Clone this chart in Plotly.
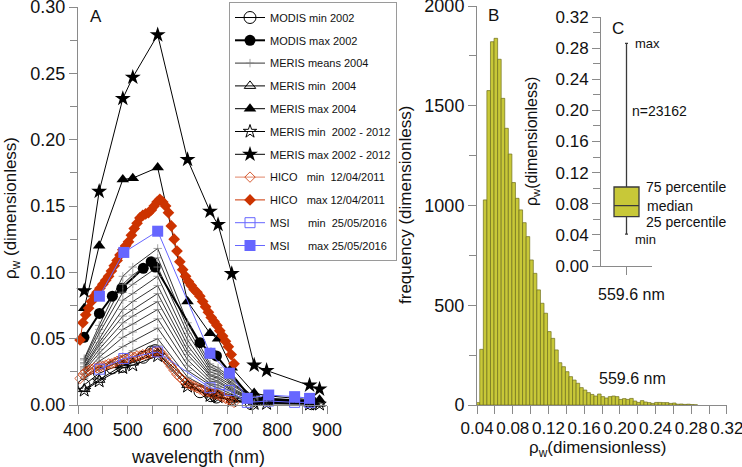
import plotly.graph_objects as go

W, H = 742, 467
FONT = "Arial, Liberation Sans, sans-serif"

# ---------------- Panel A data ----------------
MODIS_WL = [412, 443, 469, 488, 531, 547, 555, 645, 667, 678, 748, 869]
MODIS_MIN_2002 = [0.015, 0.024, 0.028, 0.029, 0.036, 0.040, 0.041, 0.010, 0.007, 0.006, 0.001, 0.001]
MODIS_MAX_2002 = [0.051, 0.069, 0.082, 0.088, 0.103, 0.108, 0.104, 0.047, 0.039, 0.037, 0.005, 0.003]

MERIS_WL = [412.5, 442.5, 490, 510, 560, 620, 665, 681.25, 708.75, 753.75, 778.75, 865, 885]
MERIS_MEANS_2004 = [
    [0.035, 0.060, 0.097, 0.104, 0.118, 0.062, 0.031, 0.028, 0.020, 0.006, 0.005, 0.003, 0.003],
    [0.034, 0.057, 0.091, 0.098, 0.111, 0.058, 0.029, 0.026, 0.019, 0.0056, 0.0047, 0.0028, 0.0028],
    [0.032, 0.054, 0.085, 0.091, 0.104, 0.054, 0.027, 0.025, 0.017, 0.005, 0.0044, 0.0026, 0.0026],
    [0.031, 0.050, 0.079, 0.084, 0.097, 0.049, 0.025, 0.023, 0.016, 0.0048, 0.0041, 0.0024, 0.0024],
    [0.029, 0.047, 0.072, 0.078, 0.090, 0.045, 0.023, 0.021, 0.015, 0.0045, 0.0038, 0.0022, 0.0022],
    [0.028, 0.045, 0.067, 0.072, 0.084, 0.041, 0.022, 0.020, 0.013, 0.0041, 0.0036, 0.0021, 0.0021],
    [0.027, 0.042, 0.062, 0.067, 0.078, 0.038, 0.020, 0.018, 0.012, 0.0038, 0.0034, 0.0019, 0.0019],
    [0.026, 0.039, 0.057, 0.061, 0.072, 0.034, 0.018, 0.017, 0.011, 0.0035, 0.0031, 0.0017, 0.0017],
    [0.024, 0.036, 0.051, 0.055, 0.065, 0.030, 0.016, 0.015, 0.010, 0.0031, 0.0028, 0.0015, 0.0015],
    [0.023, 0.033, 0.044, 0.048, 0.058, 0.026, 0.015, 0.013, 0.008, 0.0027, 0.0025, 0.0014, 0.0014],
    [0.021, 0.029, 0.037, 0.041, 0.050, 0.021, 0.012, 0.011, 0.007, 0.0023, 0.0022, 0.0011, 0.0011],
    [0.020, 0.027, 0.033, 0.036, 0.045, 0.018, 0.011, 0.010, 0.006, 0.002, 0.002, 0.001, 0.001],
]
MERIS_MIN_2004 = [0.012, 0.019, 0.030, 0.032, 0.039, 0.015, 0.008, 0.007, 0.004, 0.002, 0.002, 0.001, 0.001]
MERIS_MAX_2004 = [0.073, 0.120, 0.170, 0.171, 0.179, 0.078, 0.054, 0.050, 0.028, 0.009, 0.007, 0.004, 0.004]
MERIS_MIN_2002_2012 = [0.011, 0.018, 0.028, 0.030, 0.037, 0.014, 0.007, 0.006, 0.003, 0.001, 0.001, 0.0005, 0.0005]
MERIS_MAX_2002_2012 = [0.086, 0.161, 0.231, 0.247, 0.279, 0.185, 0.146, 0.136, 0.099, 0.030, 0.026, 0.015, 0.012]

HICO_WL = [404.1, 409.8, 415.5, 421.3, 427.0, 432.7, 438.4, 444.2, 449.9, 455.6,
           461.4, 467.1, 472.8, 478.5, 484.3, 490.0, 495.7, 501.4, 507.2, 512.9,
           518.6, 524.3, 530.1, 535.8, 541.5, 547.3, 553.0, 558.7, 564.4, 570.2,
           575.9, 581.6, 587.3, 593.1, 598.8, 604.5, 610.2, 616.0, 621.7, 627.4,
           633.1, 638.9, 644.6, 650.3, 656.1, 661.8, 667.5, 673.2, 679.0, 684.7,
           690.4, 696.1, 701.9, 707.6, 713.3]
HICO_MIN = [0.020, 0.023, 0.025, 0.026, 0.027, 0.028, 0.028, 0.029, 0.029, 0.030,
            0.031, 0.031, 0.032, 0.033, 0.034, 0.034, 0.035, 0.035, 0.036, 0.036,
            0.037, 0.037, 0.038, 0.038, 0.039, 0.039, 0.040, 0.040, 0.040, 0.038,
            0.035, 0.032, 0.029, 0.026, 0.023, 0.021, 0.019, 0.017, 0.016, 0.015,
            0.014, 0.013, 0.012, 0.011, 0.010, 0.010, 0.009, 0.008, 0.008, 0.007,
            0.006, 0.005, 0.004, 0.003, 0.002]
HICO_MAX = [0.049, 0.062, 0.068, 0.073, 0.078, 0.082, 0.085, 0.088, 0.091, 0.094,
            0.097, 0.101, 0.105, 0.109, 0.113, 0.117, 0.120, 0.123, 0.128, 0.133,
            0.137, 0.141, 0.143, 0.144, 0.145, 0.147, 0.150, 0.153, 0.155, 0.153,
            0.150, 0.145, 0.135, 0.125, 0.116, 0.108, 0.102, 0.097, 0.093, 0.090,
            0.087, 0.085, 0.082, 0.078, 0.074, 0.070, 0.066, 0.063, 0.060, 0.056,
            0.052, 0.048, 0.044, 0.038, 0.031]

MSI_WL = [443, 492, 560, 665, 704, 740, 783, 835, 865]
MSI_MIN = [0.027, 0.035, 0.040, 0.013, 0.011, 0.002, 0.003, 0.002, 0.002]
MSI_MAX = [0.082, 0.115, 0.131, 0.039, 0.024, 0.005, 0.0075, 0.0063, 0.005]

# ---------------- Panel B data (histogram at 559.6 nm) ----------------
BIN_START = 0.039
BIN_WIDTH = 0.004
HIST_COUNTS = [12, 279, 1028, 1576, 1821, 1838, 1733, 1537, 1387, 1258,
               1115, 1036, 978, 914, 844, 727, 660, 577, 510, 460,
               368, 334, 276, 212, 192, 167, 142, 125, 109, 87,
               75, 62, 53, 45, 55, 42, 35, 42, 45, 42,
               28, 32, 28, 33, 20, 13, 22, 15, 12, 8,
               13, 13, 12, 12, 8, 10, 4, 5, 3, 4,
               2, 1]
B_TICKS = [0.04, 0.08, 0.12, 0.16, 0.20, 0.24, 0.28, 0.32]

# ---------------- Panel C data (box) ----------------
BOX_MIN = 0.041
BOX_Q1 = 0.0635
BOX_MEDIAN = 0.0775
BOX_Q3 = 0.1015
BOX_MAX = 0.286
N_OBS = 23162

BLACK = "#000000"
HICO_C = "#CC3300"
MSI_C = "#6666FF"
OLIVE = "#C8C838"
OLIVE_EDGE = "#6E6E1C"
AXIS_C = "#8a8a8a"


def pxx(x):
    return x / W


def pxy(y):
    return 1 - y / H


fig = go.Figure()
fig.add_trace(go.Scatter(x=MODIS_WL, y=MODIS_MIN_2002, name="MODIS min 2002", legendgroup="g01",
                         mode="lines+markers", line=dict(color=BLACK, width=1),
                         marker=dict(symbol="circle-open", size=12, color=BLACK, line=dict(width=1))))
fig.add_trace(go.Scatter(x=MODIS_WL, y=MODIS_MAX_2002, name="MODIS max 2002", legendgroup="g02",
                         mode="lines+markers", line=dict(color=BLACK, width=2),
                         marker=dict(symbol="circle", size=11, color=BLACK)))
for i, vals in enumerate(MERIS_MEANS_2004):
    fig.add_trace(go.Scatter(x=MERIS_WL, y=vals, name="MERIS means 2004", legendgroup="g03",
                             showlegend=(i == 0), mode="lines+markers",
                             line=dict(color=BLACK, width=0.8),
                             marker=dict(symbol="cross-thin", size=6, color="#808080",
                                         line=dict(width=0.7, color="#808080"))))
fig.add_trace(go.Scatter(x=MERIS_WL, y=MERIS_MIN_2004, name="MERIS min\u00a0\u00a02004", legendgroup="g04",
                         mode="lines+markers", line=dict(color=BLACK, width=1),
                         marker=dict(symbol="triangle-up-open", size=10, color=BLACK, line=dict(width=1))))
fig.add_trace(go.Scatter(x=MERIS_WL, y=MERIS_MAX_2004, name="MERIS max 2004", legendgroup="g05",
                         mode="lines+markers", line=dict(color=BLACK, width=1),
                         marker=dict(symbol="triangle-up", size=11, color=BLACK)))
fig.add_trace(go.Scatter(x=MERIS_WL, y=MERIS_MIN_2002_2012, name="MERIS min\u00a0\u00a02002 - 2012",
                         legendgroup="g06", mode="lines+markers", line=dict(color=BLACK, width=1),
                         marker=dict(symbol="star-open", size=10, color=BLACK, line=dict(width=1))))
fig.add_trace(go.Scatter(x=MERIS_WL, y=MERIS_MAX_2002_2012, name="MERIS max 2002 - 2012",
                         legendgroup="g07", mode="lines+markers", line=dict(color=BLACK, width=1),
                         marker=dict(symbol="star", size=12, color=BLACK)))
fig.add_trace(go.Scatter(x=HICO_WL, y=HICO_MIN, name="HICO\u00a0\u00a0\u00a0min\u00a0\u00a012/04/2011",
                         legendgroup="g08", mode="lines+markers", line=dict(color=HICO_C, width=0.6),
                         marker=dict(symbol="diamond-open", size=8, color=HICO_C, line=dict(width=0.8))))
fig.add_trace(go.Scatter(x=HICO_WL, y=HICO_MAX, name="HICO\u00a0\u00a0\u00a0max 12/04/2011",
                         legendgroup="g09", mode="lines+markers", line=dict(color=HICO_C, width=1),
                         marker=dict(symbol="diamond", size=9, color=HICO_C)))
fig.add_trace(go.Scatter(x=MSI_WL, y=MSI_MIN, name="MSI\u00a0\u00a0\u00a0\u00a0\u00a0\u00a0min\u00a0\u00a025/05/2016",
                         legendgroup="g10", mode="lines+markers", line=dict(color=MSI_C, width=1),
                         marker=dict(symbol="square-open", size=10, color=MSI_C, line=dict(width=1))))
fig.add_trace(go.Scatter(x=MSI_WL, y=MSI_MAX, name="MSI\u00a0\u00a0\u00a0\u00a0\u00a0\u00a0max 25/05/2016",
                         legendgroup="g11", mode="lines+markers", line=dict(color=MSI_C, width=1),
                         marker=dict(symbol="square", size=11, color=MSI_C)))
for tr in fig.data:
    tr.update(cliponaxis=False, xaxis="x", yaxis="y")

# Panel B histogram
centers = [BIN_START + BIN_WIDTH * (k + 0.5) for k in range(len(HIST_COUNTS))]
fig.add_trace(go.Bar(x=centers, y=HIST_COUNTS, width=BIN_WIDTH, xaxis="x2", yaxis="y2",
                     showlegend=False,
                     marker=dict(color=OLIVE, line=dict(color=OLIVE_EDGE, width=0.7))))

# Panel C box
fig.add_trace(go.Box(x=[0], q1=[BOX_Q1], median=[BOX_MEDIAN], q3=[BOX_Q3],
                     lowerfence=[BOX_MIN], upperfence=[BOX_MAX], width=0.98, whiskerwidth=0.12,
                     xaxis="x3", yaxis="y3", showlegend=False, boxpoints=False,
                     fillcolor=OLIVE, line=dict(color="#3a3a3a", width=1.3)))

axis_common = dict(showline=True, linecolor=AXIS_C, linewidth=1, ticks="outside", ticklen=8,
                   tickcolor=AXIS_C, tickwidth=1, showgrid=False, zeroline=False, automargin=False,
                   tickangle=0, ticklabeloverflow="allow",
                   tickfont=dict(family=FONT, size=18, color="#111111"))
axis_b_x = dict(axis_common)
axis_b_x["tickfont"] = dict(family=FONT, size=17, color="#111111")

fig.update_layout(
    template="none",
    width=W, height=H, autosize=False,
    margin=dict(l=0, r=0, t=0, b=0, pad=0),
    paper_bgcolor="white", plot_bgcolor="rgba(0,0,0,0)",
    font=dict(family=FONT, color="#111111"),
    bargap=0,
    xaxis=dict(domain=[pxx(78), pxx(327)], range=[400, 900], dtick=100, anchor="y",
               minor=dict(dtick=50, ticks="outside", ticklen=8, tickcolor=AXIS_C, showgrid=False),
               **axis_common),
    yaxis=dict(domain=[pxy(405), pxy(7)], range=[0, 0.30], dtick=0.05, tickformat=".2f", anchor="x",
               minor=dict(dtick=0.025, ticks="outside", ticklen=7, tickcolor=AXIS_C, showgrid=False),
               **axis_common),
    xaxis2=dict(domain=[pxx(477), pxx(727)], range=[0.0399, 0.3201], tickvals=B_TICKS,
                ticktext=["%.2f" % v for v in B_TICKS], anchor="y2",
                minor=dict(dtick=0.02, tick0=0.04, ticks="outside", ticklen=8, tickcolor=AXIS_C,
                           showgrid=False),
                **axis_b_x),
    yaxis2=dict(domain=[pxy(405), pxy(6)], range=[0, 2000], dtick=500, anchor="x2",
                minor=dict(dtick=250, ticks="outside", ticklen=7, tickcolor=AXIS_C, showgrid=False),
                **axis_common),
    xaxis3=dict(domain=[pxx(601), pxx(652)], range=[-1, 1], tickvals=[0], showticklabels=False,
                anchor="y3", showline=True, linecolor=AXIS_C, ticks="outside", ticklen=8,
                tickcolor=AXIS_C, showgrid=False, zeroline=False, automargin=False),
    yaxis3=dict(domain=[pxy(266), pxy(17)], range=[0, 0.32], dtick=0.04, tickformat=".2f", anchor="x3",
                minor=dict(dtick=0.02, ticks="outside", ticklen=7, tickcolor=AXIS_C, showgrid=False),
                showline=True, linecolor=AXIS_C, linewidth=1, ticks="outside", ticklen=8,
                tickcolor=AXIS_C, showgrid=False, zeroline=False, automargin=False,
                tickfont=dict(family=FONT, size=17, color="#111111")),
    legend=dict(x=pxx(229), y=pxy(2), xanchor="left", yanchor="top",
                bgcolor="white", bordercolor="#9a9a9a", borderwidth=1,
                font=dict(family=FONT, size=11, color="#111111"),
                traceorder="grouped", tracegroupgap=3.8, itemwidth=30),
)

ann = []


def add_text(text, x, y, size, xanchor="center", yanchor="middle", angle=0, xref="paper",
             yref="paper", yshift=0):
    ann.append(dict(text=text, x=x, y=y, xref=xref, yref=yref, showarrow=False,
                    xanchor=xanchor, yanchor=yanchor, textangle=angle, yshift=yshift,
                    font=dict(family=FONT, size=size, color="#111111")))


add_text("A", pxx(88), pxy(16), 17, xanchor="left")
add_text("B", pxx(486), pxy(15), 17, xanchor="left")
add_text("C", pxx(610), pxy(28), 17, xanchor="left")
add_text("\u03c1<sub>w</sub> (dimensionless)", pxx(12), pxy(208), 17, angle=-90)
add_text("wavelength (nm)", pxx(198), pxy(457), 18)
add_text("frequency (dimensionless)", pxx(405), pxy(205), 17, angle=-90)
add_text("\u03c1<sub>w</sub>(dimensionless)", pxx(597), pxy(449), 17)
add_text("\u03c1<sub>w</sub>(dimensionless)", pxx(532), pxy(142), 16, angle=-90)
add_text("559.6 nm", pxx(631), pxy(294), 16)
add_text("559.6 nm", pxx(632), pxy(378), 16)
add_text("max", pxx(633), BOX_MAX, 13, xanchor="left", yref="y3")
add_text("min", pxx(633), BOX_MIN, 13, xanchor="left", yref="y3", yshift=-5)
add_text("n=" + str(N_OBS), pxx(630), pxy(111), 14, xanchor="left")
add_text("75 percentile", pxx(644), BOX_Q3, 14, xanchor="left", yref="y3")
add_text("median", pxx(645), BOX_MEDIAN, 14, xanchor="left", yref="y3")
add_text("25 percentile", pxx(644), BOX_Q1, 14, xanchor="left", yref="y3", yshift=-5)

fig.update_layout(annotations=ann)
fig.write_html("out.html", config={"displayModeBar": False, "staticPlot": True})

# remove the browser's default page margin so the figure sits at the window origin
with open("out.html", "r", encoding="utf-8") as fh:
    html = fh.read()
html = html.replace("<head>", "<head><style>html,body{margin:0;padding:0;overflow:hidden;}</style>", 1)
with open("out.html", "w", encoding="utf-8") as fh:
    fh.write(html)
